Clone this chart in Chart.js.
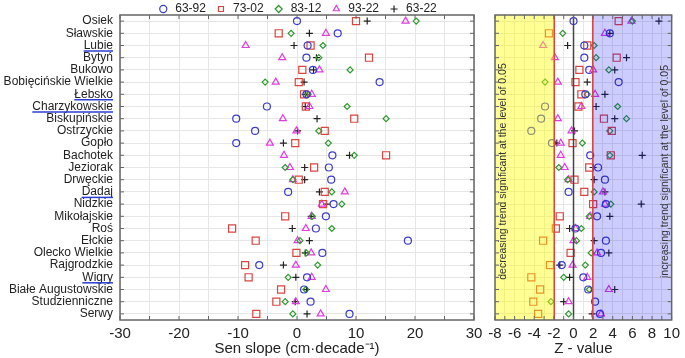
<!DOCTYPE html>
<html>
<head>
<meta charset="utf-8">
<script src="https://cdn.jsdelivr.net/npm/chart.js@4/dist/chart.umd.min.js"></script>
<style>
  body { margin: 0; background: #fff; }
  #wrap { position: relative; width: 685px; height: 358px; }
  #slopeChart { position: absolute; left: 0; top: 0; }
  #zChart { position: absolute; left: 480px; top: 0; }
</style>
</head>
<body>
<div id="wrap">
  <canvas id="slopeChart" width="500" height="358"></canvas>
  <canvas id="zChart" width="205" height="358"></canvas>
</div>
<script>
// ── Data ─────────────────────────────────────────────────────────────────────

const LAKES = ['Osiek', 'Sławskie', 'Lubie', 'Bytyń', 'Bukowo', 'Bobięcińskie Wielkie', 'Łebsko',
    'Charzykowskie', 'Biskupińskie', 'Ostrzyckie', 'Gopło', 'Bachotek', 'Jeziorak', 'Drwęckie',
    'Dadaj', 'Nidzkie', 'Mikołajskie', 'Roś', 'Ełckie', 'Olecko Wielkie', 'Rajgrodzkie', 'Wigry',
    'Białe Augustowskie', 'Studzienniczne', 'Serwy'];

const UNDERLINED = ['Lubie', 'Łebsko', 'Charzykowskie', 'Dadaj', 'Wigry'];

const PERIODS = ['63-92', '73-02', '83-12', '93-22', '63-22'];

// Sen slope, cm per decade
const SLOPE_63_92 = [0, 6.9, 1.8, 1.6, 2.7, 14.0, 1.6, -5.1, -10.3, -7.1, -10.3, 6.0, 5.4, 5.8, -1.5, 6.2, 4.9, 3.2, 18.8, 4.3, -6.4, 1.7, 1.2, 2.3, 8.9];
const SLOPE_73_02 = [10.0, -3.1, 2.3, 12.2, 0.9, 0.3, 1.2, 1.5, 9.7, 4.7, -0.3, 15.1, 2.9, 0.3, 4.7, 4.4, -2.0, -11.0, -7.0, -0.1, -8.8, -8.2, -2.7, -3.5, -6.9];
const SLOPE_83_12 = [20.2, -1.0, 4.4, 3.7, 9.0, -5.4, 1.9, 8.5, 15.1, 3.7, 5.3, 9.7, -2.0, -0.7, 5.9, 7.6, 2.6, 5.9, 0.5, 1.6, 3.5, -1.5, 1.5, -2.0, -0.7];
const SLOPE_93_22 = [18.4, 4.9, -8.7, -2.5, 3.8, -3.6, 2.5, 2.1, -2.4, -0.1, -4.6, -2.2, -1.2, -0.7, 8.1, 4.2, 2.5, 1.5, 0.1, 2.4, -0.2, 2.5, 4.9, -0.2, 4.0];
const SLOPE_63_22 = [11.9, 2.1, -0.5, 3.3, 2.8, 1.2, 1.4, 1.4, 3.4, 0.1, -2.3, 8.9, 1.3, 1.3, 3.8, 5.0, 2.4, -0.8, 2.1, 1.4, -2.3, -0.2, 1.6, -0.3, 1.7];

// Mann-Kendall Z values
const Z_63_92 = [0.0, 3.7, 1.1, 1.1, 1.6, 4.6, 1.2, -2.9, -3.3, -4.3, -2.2, 1.7, 2.5, 3.2, -0.5, 3.3, 2.4, 0.2, 3.3, 2.8, -1.2, 1.0, 1.5, 2.2, 2.7];
const Z_73_02 = [4.6, -2.5, 1.4, 4.4, 0.6, 0.2, 0.8, 0.5, 3.1, 3.9, -0.1, 3.8, 1.6, 0.1, 1.1, 2.0, -1.4, -1.8, -3.1, -0.3, -2.4, -4.3, -3.4, -4.1, -3.6];
const Z_83_12 = [6.0, -1.1, 2.1, 2.3, 3.6, -2.9, 1.4, 4.5, 5.4, 3.7, 0.9, 3.7, -1.5, -0.6, 2.1, 3.8, 1.6, 0.8, 0.3, 1.8, 1.2, -1.0, 1.6, -2.3, -0.5];
const Z_93_22 = [5.9, 3.2, -3.1, -1.9, 2.0, -1.6, 2.2, 0.8, -1.6, -0.2, -1.3, -1.3, -0.9, -0.5, 3.0, 3.2, 1.7, 0.2, 0.0, 2.4, -0.1, 1.4, 3.6, -0.5, 2.8];
const Z_63_22 = [8.7, 3.7, -0.6, 5.4, 4.2, 1.4, 3.2, 2.3, 4.2, 0.1, -1.7, 7.0, 2.0, 2.1, 3.2, 6.9, 3.7, -0.4, 2.1, 3.6, -1.4, -0.4, 4.2, -1.0, 1.9];

const SIG_LEVEL = 1.96;

// ── Style ────────────────────────────────────────────────────────────────────

const FONT = "'Liberation Sans', Arial, sans-serif";
const TEXT_COLOR = '#222';
const GRID_COLOR = '#e6e6e6';
const FRAME_COLOR = '#666';
const LABEL_SIZE = 12;

const SERIES_STYLE = [
    { color: '#3c3cc8', pointStyle: 'circle', radius: 3.5 },
    { color: '#d9453f', pointStyle: 'rect', radius: 5 },
    { color: '#2e9a2e', pointStyle: 'rectRot', radius: 3 },
    { color: '#e03ce0', pointStyle: 'triangle', radius: 4 },
    { color: '#222222', pointStyle: 'cross', radius: 3.5 }
];

Chart.defaults.font.family = FONT;
Chart.defaults.color = TEXT_COLOR;

// ── Helpers ──────────────────────────────────────────────────────────────────

function makeDatasets(seriesList) {
    return seriesList.map((values, i) => {
        const s = SERIES_STYLE[i];
        return {
            label: PERIODS[i],
            data: values.map((v, j) => ({ x: v, y: LAKES[j] })),
            pointStyle: s.pointStyle,
            pointRadius: s.radius,
            borderColor: s.color,
            backgroundColor: 'rgba(0,0,0,0)',
            borderWidth: 1.2
        };
    });
}

function yCategoryAxis(showLabels, width) {
    return {
        type: 'category',
        labels: LAKES,
        offset: true,
        ticks: { display: showLabels, autoSkip: false, padding: 7, font: { size: LABEL_SIZE }, color: TEXT_COLOR },
        grid: { color: GRID_COLOR, offset: false, drawTicks: false },
        border: { display: false },
        afterFit: s => { s.width = width; }
    };
}

// frame round the plot plus matplotlib-style inward tick marks
const framePlugin = {
    id: 'frame',
    afterDraw(chart) {
        const { ctx, chartArea: a, scales } = chart;
        ctx.save();
        ctx.strokeStyle = FRAME_COLOR;
        ctx.lineWidth = 1;
        ctx.beginPath();
        scales.y.ticks.forEach((t, i) => {
            const y = scales.y.getPixelForTick(i);
            ctx.moveTo(a.left, y); ctx.lineTo(a.left + 4, y);
            ctx.moveTo(a.right, y); ctx.lineTo(a.right - 4, y);
        });
        scales.x.ticks.forEach((t, i) => {
            const x = scales.x.getPixelForTick(i);
            ctx.moveTo(x, a.top); ctx.lineTo(x, a.top + 4);
            ctx.moveTo(x, a.bottom); ctx.lineTo(x, a.bottom - 4);
        });
        ctx.stroke();
        ctx.lineWidth = 1.5;
        ctx.strokeRect(a.left, a.top, a.right - a.left, a.bottom - a.top);
        ctx.restore();
    }
};

const underlinePlugin = {
    id: 'underline',
    afterDraw(chart) {
        const { ctx, chartArea: a, scales } = chart;
        ctx.save();
        ctx.font = LABEL_SIZE + 'px ' + FONT;
        ctx.strokeStyle = '#2a3cd2';
        ctx.lineWidth = 1.5;
        const right = a.left - 7;
        UNDERLINED.forEach(name => {
            const i = LAKES.indexOf(name);
            const y = scales.y.getPixelForTick(i) + 5.5;
            const w = ctx.measureText(name).width;
            ctx.beginPath();
            ctx.moveTo(right - w, y);
            ctx.lineTo(right, y);
            ctx.stroke();
        });
        ctx.restore();
    }
};

// significance zones are laid over the markers, so markers take their tint
const zonesPlugin = {
    id: 'zones',
    afterDatasetsDraw(chart) {
        const { ctx, chartArea: a, scales: { x } } = chart;
        const xl = x.getPixelForValue(-SIG_LEVEL);
        const xr = x.getPixelForValue(SIG_LEVEL);
        const x0 = x.getPixelForValue(0);
        ctx.save();
        ctx.fillStyle = 'rgba(255,255,0,0.42)';
        ctx.fillRect(a.left, a.top, xl - a.left, a.bottom - a.top);
        ctx.fillStyle = 'rgba(0,0,255,0.2)';
        ctx.fillRect(xr, a.top, a.right - xr, a.bottom - a.top);

        ctx.lineWidth = 1.5;
        ctx.strokeStyle = '#d9453f';
        ctx.beginPath();
        ctx.moveTo(xl, a.top); ctx.lineTo(xl, a.bottom);
        ctx.moveTo(xr, a.top); ctx.lineTo(xr, a.bottom);
        ctx.stroke();
        ctx.strokeStyle = '#444';
        ctx.beginPath();
        ctx.moveTo(x0, a.top); ctx.lineTo(x0, a.bottom);
        ctx.stroke();

        ctx.fillStyle = '#333';
        ctx.font = '10.5px ' + FONT;
        ctx.textAlign = 'center';
        ctx.textBaseline = 'middle';
        const midY = (a.top + a.bottom) / 2;
        [[a.left + 8, 'decreasing trend significant at the level of 0.05'],
         [a.right - 7, 'increasing trend significant at the level of 0.05']].forEach(([tx, text]) => {
            ctx.save();
            ctx.translate(tx, midY + 4);
            ctx.rotate(-Math.PI / 2);
            ctx.fillText(text, 0, 0);
            ctx.restore();
        });
        ctx.restore();
    }
};

// ── Charts ───────────────────────────────────────────────────────────────────

function createSlopeChart() {
    new Chart(document.getElementById('slopeChart'), {
        type: 'scatter',
        data: { datasets: makeDatasets([SLOPE_63_92, SLOPE_73_02, SLOPE_83_12, SLOPE_93_22, SLOPE_63_22]) },
        options: {
            responsive: false,
            animation: false,
            layout: { padding: { top: -6, right: 26, left: 0, bottom: 0 } },
            plugins: {
                legend: {
                    position: 'top',
                    fullSize: false,
                    maxHeight: 21,
                    labels: {
                        usePointStyle: true,
                        boxWidth: 12,
                        boxHeight: 5,
                        padding: 9,
                        font: { size: 12 },
                        color: TEXT_COLOR
                    }
                },
                tooltip: { enabled: false }
            },
            scales: {
                x: {
                    type: 'linear',
                    min: -30,
                    max: 30,
                    ticks: {
                        stepSize: 5,
                        autoSkip: false,
                        maxRotation: 0,
                        padding: 5,
                        callback: v => (v % 10 === 0 ? v : ''),
                        font: { size: 15 },
                        color: TEXT_COLOR
                    },
                    grid: { color: GRID_COLOR, drawTicks: false },
                    border: { display: false },
                    title: { display: true, text: 'Sen slope (cm·decade⁻¹)', font: { size: 15 }, color: TEXT_COLOR, padding: 0 },
                    afterFit: s => { s.height = 38; }
                },
                y: yCategoryAxis(true, 120)
            }
        },
        plugins: [framePlugin, underlinePlugin]
    });
}

function createZChart() {
    new Chart(document.getElementById('zChart'), {
        type: 'scatter',
        data: { datasets: makeDatasets([Z_63_92, Z_73_02, Z_83_12, Z_93_22, Z_63_22]) },
        options: {
            responsive: false,
            animation: false,
            layout: { padding: { top: 15, right: 10, left: 0, bottom: 0 } },
            plugins: {
                legend: { display: false },
                tooltip: { enabled: false }
            },
            scales: {
                x: {
                    type: 'linear',
                    min: -8,
                    max: 10,
                    ticks: {
                        stepSize: 1,
                        autoSkip: false,
                        maxRotation: 0,
                        padding: 5,
                        callback: v => (v % 2 === 0 ? v : ''),
                        font: { size: 15 },
                        color: TEXT_COLOR
                    },
                    grid: { color: GRID_COLOR, drawTicks: false },
                    border: { display: false },
                    title: { display: true, text: 'Z - value', font: { size: 15 }, color: TEXT_COLOR, padding: 0 },
                    afterFit: s => { s.height = 38; }
                },
                y: yCategoryAxis(false, 15)
            }
        },
        plugins: [zonesPlugin, framePlugin]
    });
}

createSlopeChart();
createZChart();
</script>
</body>
</html>
